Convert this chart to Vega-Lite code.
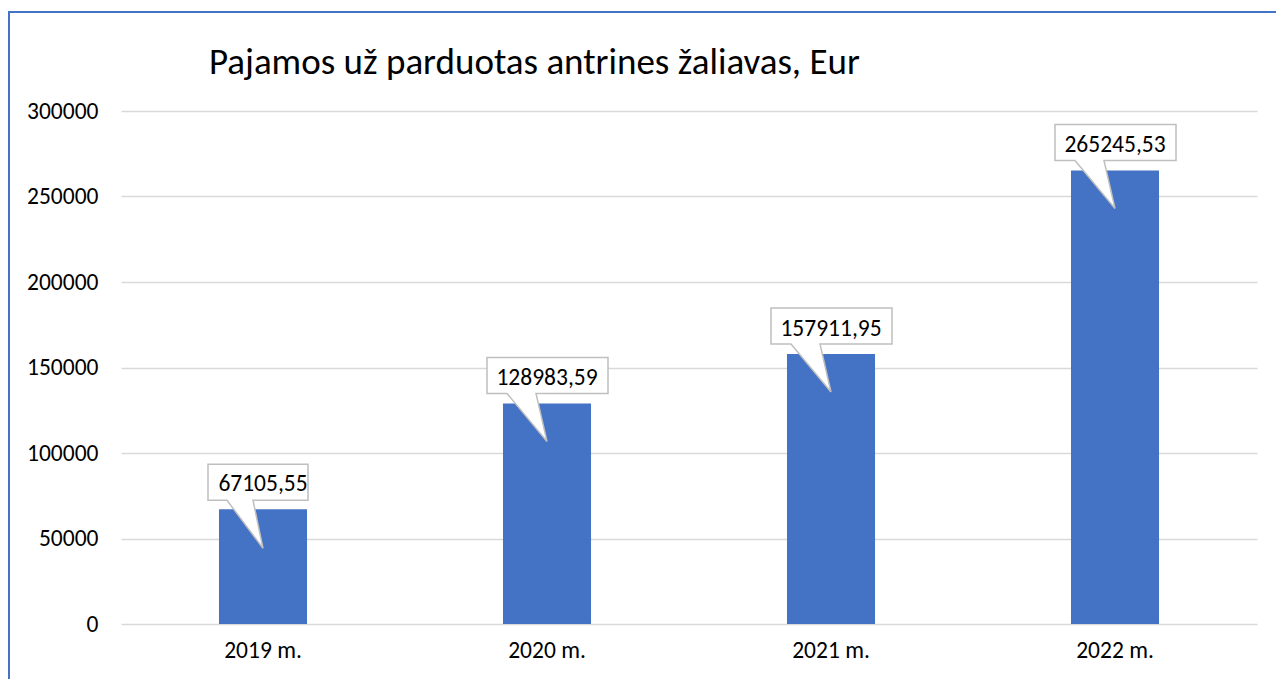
{
  "$schema": "https://vega.github.io/schema/vega-lite/v6.json",
  "width": 1136,
  "height": 513,
  "autosize": {"type": "none"},
  "padding": {"left": 121, "top": 111, "right": 19, "bottom": 55},
  "background": "white",
  "config": {
    "font": "Calibri, Carlito, Lato, sans-serif",
    "view": {"stroke": null}
  },
  "title": {
    "text": "Pajamos už parduotas antrines žaliavas, Eur",
    "anchor": "start",
    "frame": "group",
    "dx": 88,
    "dy": 120,
    "fontSize": 37,
    "fontWeight": "normal",
    "color": "#000000",
    "baseline": "alphabetic",
    "offset": 20
  },
  "data": {
    "values": [
      {"year": "2019 m.", "value": 67105.55, "label": "67105,55"},
      {"year": "2020 m.", "value": 128983.59, "label": "128983,59"},
      {"year": "2021 m.", "value": 157911.95, "label": "157911,95"},
      {"year": "2022 m.", "value": 265245.53, "label": "265245,53"}
    ]
  },
  "encoding": {
    "x": {
      "field": "year",
      "type": "ordinal",
      "scale": {"paddingInner": 0.69, "paddingOuter": 0.345},
      "axis": {
        "title": null,
        "labelAngle": 0,
        "labelFontSize": 23.5,
        "labelColor": "#000000",
        "labelPadding": 14,
        "ticks": false,
        "domain": false
      }
    },
    "y": {
      "field": "value",
      "type": "quantitative",
      "scale": {"domain": [0, 300000], "nice": false},
      "axis": {
        "title": null,
        "values": [0, 50000, 100000, 150000, 200000, 250000, 300000],
        "format": "d",
        "labelFontSize": 23.5,
        "labelColor": "#000000",
        "labelPadding": 23,
        "ticks": false,
        "domain": false,
        "gridColor": "#d9d9d9",
        "gridWidth": 1.5
      }
    }
  },
  "layer": [
    {
      "mark": {"type": "bar", "color": "#4472c4"}
    },
    {
      "mark": {
        "type": "point",
        "filled": true,
        "fill": "#ffffff",
        "stroke": "#bfbfbf",
        "strokeWidth": 1.5,
        "opacity": 1,
        "size": 4
      },
      "encoding": {
        "shape": {
          "field": "year",
          "type": "nominal",
          "legend": null,
          "scale": {
            "domain": ["2019 m.", "2020 m.", "2021 m.", "2022 m."],
            "range": [
              "M -55 -45 L 45 -45 L 45 -9 L -10 -9 L 0 39 L -36 -9 L -55 -9 Z",
              "M -60 -46 L 61 -46 L 61 -10 L -11 -10 L 0 38 L -40 -10 L -60 -10 Z",
              "M -60 -46 L 61 -46 L 61 -10 L -11 -10 L 0 38 L -40 -10 L -60 -10 Z",
              "M -60 -46 L 61 -46 L 61 -10 L -11 -10 L 0 38 L -40 -10 L -60 -10 Z"
            ]
          }
        }
      }
    },
    {
      "mark": {
        "type": "text",
        "fontSize": 23.5,
        "color": "#000000",
        "align": "center",
        "baseline": "alphabetic",
        "dy": -18
      },
      "encoding": {
        "text": {"field": "label", "type": "nominal"}
      }
    },
    {
      "mark": {"type": "rule", "color": "#4472c4", "strokeWidth": 2},
      "encoding": {
        "x": {"value": -112},
        "y": {"value": -99},
        "y2": {"value": 568}
      }
    },
    {
      "mark": {"type": "rule", "color": "#4472c4", "strokeWidth": 2},
      "encoding": {
        "x": {"value": -113},
        "x2": {"value": 1160},
        "y": {"value": -99}
      }
    }
  ]
}
